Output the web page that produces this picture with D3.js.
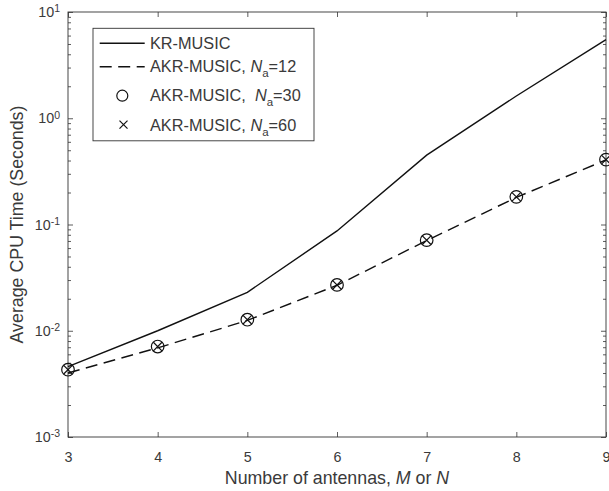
<!DOCTYPE html>
<html>
<head>
<meta charset="utf-8">
<script src="https://cdn.jsdelivr.net/npm/d3@7"></script>
<style>
  body{margin:0;background:#fff;}
  svg{font-family:"Liberation Sans",Arial,Helvetica,sans-serif;}
</style>
</head>
<body>
<script>
const antennas=[3,4,5,6,7,8,9];
const krMusic=[0.0046,0.0100,0.0230,0.087,0.45,1.62,5.5];
const akr12=[0.0040,0.0069,0.0125,0.0268,0.0705,0.180,0.405];
const akr30=[0.0043,0.0071,0.0127,0.0270,0.0712,0.182,0.408];
const akr60=[0.0043,0.0071,0.0127,0.0270,0.0712,0.182,0.408];
const yMajor=[1e-3,1e-2,1e-1,1e0,1e1];
const yExp=["-3","-2","-1","0","1"];

const w=609,h=491;
const margin={top:12,right:3,bottom:54,left:68};
const ink="#333";
const txt="#3a3a3a";

const svg=d3.select("body").append("svg").attr("width",w).attr("height",h);

const x=d3.scaleLinear().domain([3,9]).range([margin.left,w-margin.right]);
const y=d3.scaleLog().domain([1e-3,1e1]).range([h-margin.bottom,margin.top]);

// minor ticks 2..9 in every decade
let yMinor=[];
for(let e=-3;e<1;++e){
  for(let k=2;k<10;++k) yMinor.push(k*Math.pow(10,e));
}

function styleAxis(g){
  g.select(".domain").remove();
  g.selectAll("line").attr("stroke",ink).attr("stroke-width",0.8);
}

// bottom / top
svg.append("g")
  .attr("transform",`translate(0,${y.range()[0]})`)
  .call(d3.axisBottom(x).tickValues(antennas).tickFormat(d3.format("d")).tickSizeInner(-5).tickSizeOuter(0).tickPadding(15))
  .call(styleAxis)
  .call(g=>g.selectAll("text").attr("fill",txt).style("font-size","14.3px").attr("dy","0.71em"));
svg.append("g")
  .attr("transform",`translate(0,${y.range()[1]})`)
  .call(d3.axisTop(x).tickValues(antennas).tickFormat("").tickSizeInner(-5).tickSizeOuter(0))
  .call(styleAxis);

// left / right, major
const yLeft=svg.append("g")
  .attr("transform",`translate(${margin.left},0)`)
  .call(d3.axisLeft(y).tickValues(yMajor).tickFormat("").tickSizeInner(-5).tickSizeOuter(0).tickPadding(8))
  .call(styleAxis);
yLeft.selectAll(".tick text")
  .attr("fill",txt)
  .style("font-size","14.3px")
  .each(function(d,i){
    const t=d3.select(this);
    t.text(null);
    t.append("tspan").text("10");
    t.append("tspan").attr("dy","-0.45em").style("font-size","10.5px").text(yExp[i]);
  });
svg.append("g")
  .attr("transform",`translate(${w-margin.right},0)`)
  .call(d3.axisRight(y).tickValues(yMajor).tickFormat("").tickSizeInner(-5).tickSizeOuter(0))
  .call(styleAxis);
// minor
svg.append("g")
  .attr("transform",`translate(${margin.left},0)`)
  .call(d3.axisLeft(y).tickValues(yMinor).tickFormat("").tickSizeInner(-3).tickSizeOuter(0))
  .call(styleAxis);
svg.append("g")
  .attr("transform",`translate(${w-margin.right},0)`)
  .call(d3.axisRight(y).tickValues(yMinor).tickFormat("").tickSizeInner(-3).tickSizeOuter(0))
  .call(styleAxis);

// box
svg.append("rect")
  .attr("x",margin.left).attr("y",margin.top)
  .attr("width",w-margin.right-margin.left).attr("height",h-margin.bottom-margin.top)
  .attr("fill","none").attr("stroke",ink).attr("stroke-width",0.9);

// axis labels
const xl=svg.append("text")
  .attr("x",(margin.left+w-margin.right)/2).attr("y",484)
  .attr("text-anchor","middle").attr("fill",txt).style("font-size","17.8px");
xl.append("tspan").text("Number of antennas, ");
xl.append("tspan").style("font-style","italic").text("M");
xl.append("tspan").text(" or ");
xl.append("tspan").style("font-style","italic").text("N");

svg.append("text")
  .attr("transform",`translate(23,${(margin.top+h-margin.bottom)/2}) rotate(-90)`)
  .attr("text-anchor","middle").attr("fill",txt).style("font-size","17.8px")
  .text("Average CPU Time (Seconds)");

// series
const line=d3.line().x((d,i)=>x(antennas[i])).y(d=>y(d));
svg.append("path").datum(krMusic)
  .attr("d",line).attr("fill","none").attr("stroke","#111").attr("stroke-width",1.4);
svg.append("path").datum(akr12)
  .attr("d",line).attr("fill","none").attr("stroke","#111").attr("stroke-width",1.4)
  .attr("stroke-dasharray","12,6.5");

svg.selectAll("circle.m30").data(akr30).enter().append("circle")
  .attr("class","m30")
  .attr("cx",(d,i)=>x(antennas[i])).attr("cy",d=>y(d)).attr("r",6.3)
  .attr("fill","none").attr("stroke","#111").attr("stroke-width",1.2);

const cross=(s)=>`M${-s},${-s}L${s},${s}M${-s},${s}L${s},${-s}`;
svg.selectAll("path.m60").data(akr60).enter().append("path")
  .attr("class","m60")
  .attr("transform",(d,i)=>`translate(${x(antennas[i])},${y(d)})`)
  .attr("d",cross(4.3)).attr("fill","none").attr("stroke","#111").attr("stroke-width",1.2);

// legend
const lg=svg.append("g");
lg.append("rect").attr("x",93).attr("y",28.3).attr("width",221).attr("height",112.5)
  .attr("fill","#fff").attr("stroke",ink).attr("stroke-width",0.9);
const rowY=[43.3,66.7,95.7,124.7];
lg.append("line").attr("x1",99.7).attr("x2",144.7).attr("y1",rowY[0]).attr("y2",rowY[0])
  .attr("stroke","#111").attr("stroke-width",1.4);
lg.append("line").attr("x1",99.7).attr("x2",144.7).attr("y1",rowY[1]).attr("y2",rowY[1])
  .attr("stroke","#111").attr("stroke-width",1.4).attr("stroke-dasharray","12,6.5");
lg.append("circle").attr("cx",122.3).attr("cy",rowY[2]).attr("r",5.5)
  .attr("fill","none").attr("stroke","#111").attr("stroke-width",1.2);
lg.append("path").attr("transform",`translate(123.5,${rowY[3]})`).attr("d",cross(4))
  .attr("fill","none").attr("stroke","#111").attr("stroke-width",1.2);

const labels=[
  {pre:"KR-MUSIC",sub:null,post:null},
  {pre:"AKR-MUSIC, ",sub:"a",post:"=12"},
  {pre:"AKR-MUSIC,  ",sub:"a",post:"=30"},
  {pre:"AKR-MUSIC, ",sub:"a",post:"=60"}
];
const baseY=[49,71.7,101.3,130.7];
labels.forEach((l,i)=>{
  const t=lg.append("text").attr("x",150).attr("y",baseY[i]).attr("fill",txt)
    .style("font-size","16.3px").attr("xml:space","preserve").style("white-space","pre");
  t.append("tspan").text(l.pre);
  if(l.sub){
    t.append("tspan").style("font-style","italic").text("N");
    t.append("tspan").attr("dy","5").style("font-size","11.5px").text(l.sub);
    t.append("tspan").attr("dy","-5").text(l.post);
  }
});
</script>
</body>
</html>
